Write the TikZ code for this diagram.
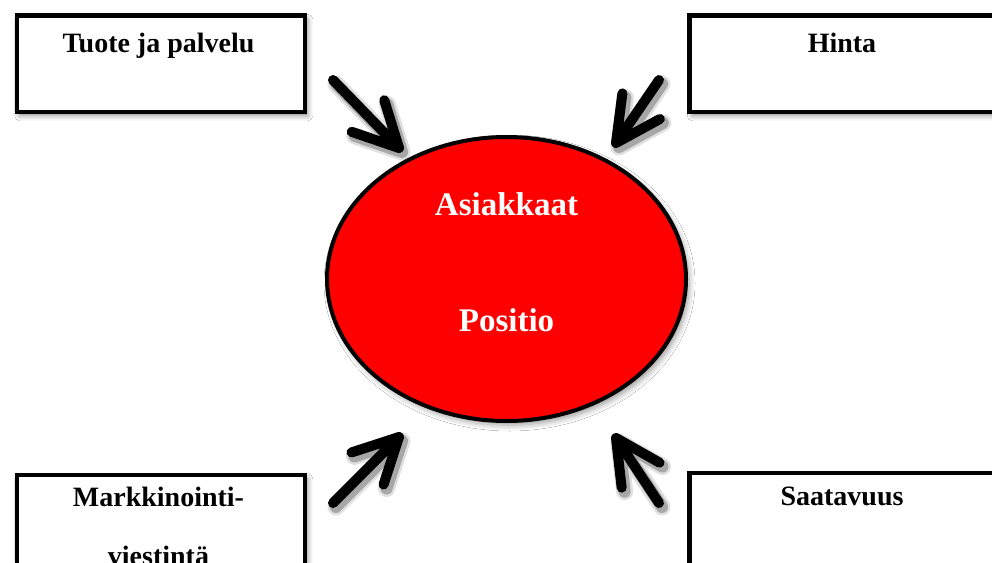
\documentclass[tikz,border=0pt]{standalone}
\usepackage{fontspec}
\setmainfont{Liberation Serif}
\usetikzlibrary{shapes.geometric,shadows.blur,calc}

\tikzset{
  factorbox/.style={draw=black, line width=4.5pt, fill=white, rectangle,
    inner sep=0pt, anchor=north west,
    blur shadow={shadow xshift=3pt, shadow yshift=-4pt, shadow blur radius=5pt, shadow opacity=45}},
  boxtext/.style={font=\fontsize{28}{34}\selectfont\bfseries, text=black, anchor=base, inner sep=0pt},
  coretext/.style={font=\fontsize{33}{40}\selectfont\bfseries, text=white, anchor=base, inner sep=0pt},
  core/.style={ellipse, draw=black, line width=4pt, fill=red, inner sep=0pt,
    blur shadow={shadow xshift=3pt, shadow yshift=-4pt, shadow blur radius=6pt, shadow opacity=40}},
  arrline/.style={draw=black, line width=10pt, line cap=round, line join=round},
  arrshade/.style={draw=black, line width=#1, line cap=round, line join=round},
}

% thick open-headed arrow from coordinate #1 to coordinate #2
\newcommand{\bigarrow}[3][arrline]{%
  \draw[#1] (#2) -- (#3)
        ($(#3)!50pt!27:(#2)$) -- (#3) -- ($(#3)!50pt!-27:(#2)$);}

\begin{document}
\begin{tikzpicture}[x=1pt, y=-1pt]
  \useasboundingbox (0,0) rectangle (992,562);
  \clip (0,0) rectangle (992,562);
  \fill[white] (0,0) rectangle (992,562);

  % the four factor boxes
  \node[factorbox, minimum width=288pt, minimum height=96.5pt] (prod) at (14.5,13) {};
  \node[factorbox, minimum width=310pt, minimum height=96.5pt] (price) at (687,13) {};
  \node[factorbox, minimum width=288pt, minimum height=110pt] (promo) at (14.5,472.5) {};
  \node[factorbox, minimum width=310pt, minimum height=110pt] (place) at (687,470.5) {};

  \node[boxtext] (prodT) at (158.5,52) {Tuote ja palvelu};
  \node[boxtext] (priceT) at (842,52) {Hinta};
  \node[boxtext] (promoT1) at (158.5,506) {Markkinointi-};
  \node[boxtext] (promoT2) at (158.5,565) {viestintä};
  \node[boxtext] (placeT) at (842,505) {Saatavuus};

  % central customer ellipse
  \node[core, minimum width=359pt, minimum height=284pt] (cust) at (506.5,279) {};
  \node[coretext] (custT1) at (506.5,215) {Asiakkaat};
  \node[coretext] (custT2) at (506.5,331) {Positio};

  % arrow end points
  \coordinate (s1) at (333,80);  \coordinate (e1) at (399,148);
  \coordinate (s2) at (659,80);  \coordinate (e2) at (616,143);
  \coordinate (s3) at (333,503); \coordinate (e3) at (399,437);
  \coordinate (s4) at (659,503); \coordinate (e4) at (616,438);

  % soft shadows of the arrows
  \foreach \i in {1,...,4} {
    \begin{scope}[transparency group, opacity=0.12,
                  transform canvas={xshift=3pt, yshift=-4pt}]
      \bigarrow[arrshade=17pt]{s\i}{e\i}
    \end{scope}
    \begin{scope}[transparency group, opacity=0.25,
                  transform canvas={xshift=3pt, yshift=-4pt}]
      \bigarrow[arrshade=12pt]{s\i}{e\i}
    \end{scope}
  }

  % the arrows
  \foreach \i in {1,...,4} {
    \bigarrow{s\i}{e\i}
  }
\end{tikzpicture}
\end{document}
